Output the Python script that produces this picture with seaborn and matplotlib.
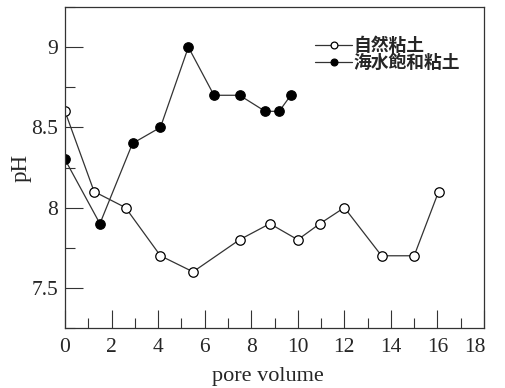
import numpy as np
import pandas as pd
import matplotlib
matplotlib.use("Agg")
import matplotlib.pyplot as plt
import matplotlib.transforms as mtransforms
import seaborn as sns
from matplotlib.ticker import MultipleLocator

natural_x = [0.0, 1.25, 2.6, 4.1, 5.5, 7.5, 8.8, 10.0, 10.95, 12.0, 13.6, 15.0, 16.05]
natural_y = [8.6, 8.1, 8.0, 7.7, 7.6, 7.8, 7.9, 7.8, 7.9, 8.0, 7.7, 7.7, 8.1]
sea_x = [0.0, 1.5, 2.9, 4.1, 5.3, 6.4, 7.5, 8.6, 9.2, 9.7]
sea_y = [8.3, 7.9, 8.4, 8.5, 9.0, 8.7, 8.7, 8.6, 8.6, 8.7]
labels = ["自然粘土", "海水飽和粘土"]

sns.set_style("white")
plt.rcParams['font.family'] = ['Liberation Serif', 'DejaVu Serif']

fig = plt.figure(figsize=(5.05, 3.88), dpi=100)
ax = fig.add_axes([65/505, 60/388, (484-65)/505, (328-7)/388])

df1 = pd.DataFrame({"x": natural_x, "y": natural_y})
df2 = pd.DataFrame({"x": sea_x, "y": sea_y})
sns.lineplot(data=df1, x="x", y="y", ax=ax, color="#333333", lw=0.9,
             marker="o", markersize=6.8, markerfacecolor="white",
             markeredgecolor="black", markeredgewidth=0.9, label=labels[0], sort=False)
sns.lineplot(data=df2, x="x", y="y", ax=ax, color="#333333", lw=0.9,
             marker="o", markersize=6.8, markerfacecolor="black",
             markeredgecolor="black", markeredgewidth=0.9, label=labels[1], sort=False)

ax.set_xlim(0, 18)
ax.set_ylim(7.25, 9.25)
ax.set_xticks(range(0, 19, 2))
ax.xaxis.set_minor_locator(MultipleLocator(1))
ax.yaxis.set_minor_locator(MultipleLocator(0.25))
ax.set_yticks([7.5, 8, 8.5, 9])
ax.set_yticklabels(["7.5", "8", "8.5", "9"])
ax.tick_params(which="both", direction="in", top=False, right=False,
               bottom=True, left=True, width=0.8, color="#333333")
ax.tick_params(which="major", length=13, labelsize=15.5, pad=5)
ax.tick_params(axis="x", which="major", pad=7)
ax.tick_params(which="minor", length=7)
for s in ax.spines.values():
    s.set_color("#333333")
    s.set_linewidth(0.9)

ax.set_xlabel("pore volume", fontsize=16)
ax.xaxis.set_label_coords(0.4845, -0.122, transform=ax.transAxes)
ax.set_ylabel("pH", fontsize=16.5)
ax.yaxis.set_label_coords(-0.079, 0.5, transform=ax.transAxes)

leg = ax.legend(loc="upper left", bbox_to_anchor=(0.571, 0.94), frameon=False,
                prop={"family": ["Noto Sans CJK JP"], "size": 12.8, "weight": "bold"},
                handlelength=2.1, handletextpad=0.05, labelspacing=-0.06,
                borderpad=0.1, markerscale=0.72)

fig.canvas.draw()
last = ax.get_xticklabels()[-1]
last.set_transform(last.get_transform() + mtransforms.ScaledTranslation(-9/100, 0, fig.dpi_scale_trans))

fig.savefig("out.png", dpi=100)
